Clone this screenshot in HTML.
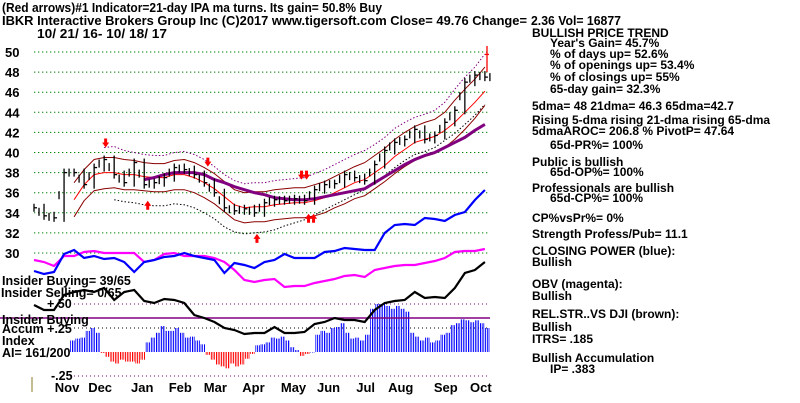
<!DOCTYPE html>
<html><head><meta charset="utf-8"><style>
html,body{margin:0;padding:0;background:#fff}
svg{display:block}
text{font-family:"Liberation Sans",sans-serif;font-weight:bold;fill:#000}
.t{font-size:12.5px}
.r{font-size:12px}
</style></head><body>
<svg id="chart" width="800" height="403" viewBox="0 0 800 403" xmlns="http://www.w3.org/2000/svg">
<defs>
<pattern id="bluestripe" width="2.4" height="4" patternUnits="userSpaceOnUse"><rect x="0" y="0" width="1.2" height="4" fill="#0000ff"/></pattern>
<pattern id="redstripe" width="2.4" height="4" patternUnits="userSpaceOnUse"><rect x="0" y="0" width="1.2" height="4" fill="#ff0000"/></pattern>
</defs>
<g>
<text class="t" x="2" y="12" textLength="380" lengthAdjust="spacingAndGlyphs">(Red arrows)#1 Indicator=21-day IPA ma turns. Its gain= 50.8% Buy</text>
<text class="t" x="2" y="25" textLength="525" lengthAdjust="spacingAndGlyphs">IBKR   Interactive Brokers Group Inc   (C)2017 www.tigersoft.com      Close=   49.76   Change=</text>
<text class="t" x="531" y="25" textLength="90" lengthAdjust="spacingAndGlyphs">2.36 Vol= 16877</text>
<text class="t" x="37" y="38" textLength="130" lengthAdjust="spacingAndGlyphs">10/ 21/ 16- 10/ 18/ 17</text>
</g>
<g id="grid"></g>
<g id="yticks"></g>
<g id="series"></g>
<g>
<text class="t" x="2" y="285">Insider Buying= 39/65</text>
<text class="t" x="1" y="297">Insider Selling= 0/65</text>
<text class="t" x="47" y="308">+.50</text>
<text class="t" x="2" y="324">Insider Buying</text>
<text class="t" x="2" y="333">Accum  +.25</text>
<text class="t" x="2" y="345">Index</text>
<text class="t" x="2" y="357">AI= 161/200</text>
<text class="t" x="51" y="380">-.25</text>
<line x1="32" y1="377" x2="32" y2="392" stroke="#8b7a2a" stroke-width="1"/>
</g>
<g id="xlabels"></g>
<g>
<text class="r" x="532" y="37">BULLISH PRICE TREND</text>
<text class="r" x="550" y="47">Year's Gain= 45.7%</text>
<text class="r" x="550" y="58">% of days up= 52.6%</text>
<text class="r" x="550" y="69">% of openings up= 53.4%</text>
<text class="r" x="550" y="81">% of closings up= 55%</text>
<text class="r" x="550" y="93">65-day gain= 32.3%</text>
<text class="r" x="532" y="110">5dma= 48 21dma= 46.3 65dma=42.7</text>
<text class="r" x="532" y="124">Rising 5-dma rising 21-dma rising 65-dma</text>
<text class="r" x="532" y="135">5dmaAROC= 206.8 %  PivotP= 47.64</text>
<text class="r" x="550" y="149">65d-PR%= 100%</text>
<text class="r" x="532" y="166">Public is bullish</text>
<text class="r" x="550" y="176">65d-OP%= 100%</text>
<text class="r" x="532" y="192">Professionals are bullish</text>
<text class="r" x="550" y="202">65d-CP%= 100%</text>
<text class="r" x="532" y="222">CP%vsPr%=  0%</text>
<text class="r" x="532" y="238">Strength Profess/Pub= 11.1</text>
<text class="r" x="532" y="255">CLOSING POWER (blue):</text>
<text class="r" x="532" y="266">Bullish</text>
<text class="r" x="532" y="288">OBV (magenta):</text>
<text class="r" x="532" y="300">Bullish</text>
<text class="r" x="532" y="318">REL.STR..VS DJI (brown):</text>
<text class="r" x="532" y="331">Bullish</text>
<text class="r" x="532" y="343">ITRS= .185</text>
<text class="r" x="532" y="362">Bullish Accumulation</text>
<text class="r" x="550" y="373">IP= .383</text>
</g>
</svg>
<script>
// ---- data ----
const priceTicks = [30,32,34,36,38,40,42,44,46,48,50];
const months = ["Nov","Dec","Jan","Feb","Mar","Apr","May","Jun","Jul","Aug","Sep","Oct"];
const monthIdx = [3.3,6.6,10.8,14.6,18.1,21.9,25.9,29.4,33.1,36.6,41.1,44.6];
const closes = [34.5,33.7,33.5,38,38,36.8,38.5,39.3,37.8,37,39,36.8,37,37.5,38.5,38.3,37.8,37,36,34.5,34.2,34.4,34,35,35.3,35.2,35.4,35.2,36.3,36.8,36.9,37.8,37.5,37.2,38.8,40.2,41,41.3,42.3,41.3,41.7,43,44.2,47,47.7,47.5];
const ma21 = [null,null,null,null,35.3,36.8,37.8,38,38,37.8,37.8,37.6,37.5,37.5,37.8,37.8,37.5,37,36.4,35.6,34.8,34.5,34.6,34.6,34.8,34.9,35,35,35.2,35.5,36,36.5,37,37.3,38,38.7,39.6,40.3,41,41.3,41.6,42.2,43,44,45,46.1];
const upperBand = [null,null,null,null,37,38.3,39.3,39.5,39.5,39.3,39.2,39,38.9,38.9,39.2,39.3,39,38.5,37.9,37.1,36.3,36,36.1,36.1,36.3,36.4,36.5,36.5,36.8,37.1,37.6,38.1,38.6,39,39.7,40.4,41.3,42,42.6,43,43.3,44,45.2,46.3,47.3,48.5];
const lowerBand = [null,null,null,null,33.6,35.2,36.2,36.4,36.5,36.3,36.3,36.2,36.1,36.1,36.3,36.3,36,35.5,34.9,34.1,33.3,33,33.1,33.1,33.3,33.4,33.5,33.5,33.7,34,34.5,34.9,35.4,35.7,36.4,37.1,37.9,38.6,39.2,39.6,39.9,40.5,41.3,42.3,43.4,44.7];
const outerUpper = [null,null,null,null,null,null,null,40.5,40.6,40.2,40,39.8,39.7,39.7,40,40.1,39.8,39.3,38.6,37.8,37.2,36.9,37,37,37.2,37.3,37.4,37.5,37.9,38.3,38.8,39.3,39.8,40.2,40.8,41.5,42.4,43,43.5,43.8,44.2,45,46.3,47.5,48.5,49.8];
const outerLower = [null,null,null,null,null,null,null,null,35.3,35.1,35,34.8,34.7,34.7,34.9,34.8,34.5,34,33.4,32.6,32.1,31.9,32,32.1,32.3,32.7,33,33.3,33.8,34.3,34.8,35.3,35.8,36.3,37,37.7,38.5,39.2,39.8,40.1,40.5,41.2,41.9,42.8,43.7,44.8];
const ma65 = [null,null,null,null,null,null,null,null,null,null,null,37.3,37.5,37.8,38,38,38,37.8,37.3,37,36.6,36.3,36,35.8,35.5,35.4,35.3,35.3,35.4,35.6,35.8,36,36.2,36.4,37,37.6,38.2,38.8,39.3,39.7,40,40.5,41,41.5,42.2,42.8];
const closingPower = [29,26,28,46,50,42,44,41,42,38,28,38,40,43,44,47,44,42,40,27,37,35,32,38,40,46,42,42,42,48,49,52,51,50,50,67,75,76,75,82,81,79,85,88,100,110];
const obv = [40,38,34,44,44,48,49,47,47,47,47,38,40,46,47,44,44,44,42,38,30,20,18,20,21,13,14,14,17,19,21,24,25,23,30,32,34,35,35,37,39,42,48,49,49,51];
const relStr = [95,90,90,105,108,110,108,112,100,108,110,99,97,101,100,97,85,82,78,72,70,66,67,67,73,67,67,68,76,78,82,80,80,78,90,97,99,100,108,102,103,102,112,127,130,138];
const accum = [.12,.14,.15,.22,.25,.2,-.01,-.05,-.1,-.12,-.08,-.1,-.1,-.12,-.08,.1,.15,.2,.27,.22,.22,.25,.2,.15,.16,.12,.08,-.03,-.08,-.13,-.15,-.17,-.12,-.15,-.13,-.07,-.02,.07,.08,.1,.15,.14,.16,.12,.05,.02,-.04,-.02,0,.18,.22,.2,.25,.26,.3,.2,.14,.15,.12,.18,.45,.5,.5,.48,.45,.48,.45,.42,.2,.16,.12,.15,.1,.12,.18,.2,.28,.3,.34,.33,.31,.33,.3,.25];
const lastClose = 49.76;
const signals = [{i:7.1,p:40.6,dir:"down"},{i:17.3,p:38.7,dir:"down"},{i:11.3,p:35.1,dir:"up"},{i:22.2,p:31.8,dir:"up"},{i:26.9,p:37.4,dir:"down2"},{i:27.6,p:33.8,dir:"up2"}];

// ---- scales ----
const X0=34, STEP=10.02;
const xi = i => X0 + i*STEP;
const yp = p => 52 + (50-p)*10.05;
const ycp = v => 300 - v;   // closing power panel
const yobv = v => 300 - v;  // OBV
const yrs = v => 400 - v;   // relative strength
const ACC0=352, ACCK=96;
const ya = v => ACC0 - v*ACCK;
const xa = i => 70 + i*5;

const NS="http://www.w3.org/2000/svg";
function mk(tag, parent, attrs){const e=document.createElementNS(NS,tag);for(const k in attrs)e.setAttribute(k,attrs[k]);parent.appendChild(e);return e;}
const grid=document.getElementById('grid'), yt=document.getElementById('yticks'), ser=document.getElementById('series'), xl=document.getElementById('xlabels');

priceTicks.forEach(p=>{
  const l=mk('line',grid,{x1:34,x2:490,y1:yp(p),y2:yp(p),stroke:'#008000','stroke-dasharray':'1.3 2.7','stroke-width':1});
  
  
  const t=mk('text',yt,{x:5,y:yp(p)+5,'font-size':'13px'});
  t.textContent=p;
  
  
});
months.forEach((m,k)=>{
  const t=mk('text',xl,{x:xi(monthIdx[k]),y:392,'font-size':'13px','text-anchor':'middle'});
  t.textContent=m;
  
  
});

[[.5,'#800080','1 3'],[.25,'#000','1 3'],[-.25,'#800080','1 3']].forEach(([v,c,d])=>{
  const l=mk('line',ser,{x1:70,x2:490,y1:ya(v),y2:ya(v),stroke:c,'stroke-dasharray':d});
  
  
});

accum.forEach((v,i)=>{
  const y=Math.min(ya(v),ACC0), h=Math.abs(ya(v)-ACC0);
  const r=mk('rect',ser,{x:xa(i),y:y,width:5,height:Math.max(h,0.5),fill:v>=0?'url(#bluestripe)':'url(#redstripe)'});
  
  
});
const insiderLine=mk('line',ser,{x1:0,x2:490,y1:318,y2:318,stroke:'#800080','stroke-width':1.5});



function path(arr, xf, yf, attrs, name){
  let d='', pen=false;
  arr.forEach((v,i)=>{ if(v==null){pen=false;return;} d+=(pen?'L':'M')+xf(i).toFixed(1)+' '+yf(v).toFixed(1)+' '; pen=true; });
  const p=mk('path',ser,Object.assign({d:d,fill:'none'},attrs));
  
  
  return p;
}
path(outerUpper,xi,yp,{stroke:'#800080','stroke-dasharray':'1.5 2'},'upper-outer-band');
path(outerLower,xi,yp,{stroke:'#000','stroke-dasharray':'1.5 2'},'lower-outer-band');
path(upperBand,xi,yp,{stroke:'#8b0000'},'upper-band');
path(lowerBand,xi,yp,{stroke:'#8b0000'},'lower-band');
path(ma21,xi,yp,{stroke:'#ff0000'},'ma21-line');
path(ma65,xi,yp,{stroke:'#800080','stroke-width':3},'ma65-line');
path(obv,xi,yobv,{stroke:'#ff00ff','stroke-width':2.2},'obv-line');
path(closingPower,xi,ycp,{stroke:'#0000ff','stroke-width':2.2},'closing-power-line');
path(relStr,xi,yrs,{stroke:'#000','stroke-width':2.2},'rel-strength-line');

closes.forEach((c,i)=>{
  const x=xi(i), prev=i>0?closes[i-1]:c;
  const hi=Math.max(c,prev)+0.4, lo=Math.min(c,prev)-0.4;
  const l=mk('line',ser,{x1:x,x2:x,y1:yp(hi),y2:yp(lo),stroke:'#000','stroke-width':1.3});
  
  
  const t=mk('line',ser,{x1:x,x2:x+3,y1:yp(c),y2:yp(c),stroke:'#000','stroke-width':1.3});
  
  
  const nx=i<closes.length-1?closes[i+1]:c;
  const m=mk('line',ser,{x1:x+5,x2:x+5,y1:yp((c+nx)/2+0.4),y2:yp((c+nx)/2-0.4),stroke:'#000','stroke-width':1.3});
  
  
});
const lb=mk('line',ser,{x1:487,x2:487,y1:yp(50.6),y2:yp(48),stroke:'#ff0000','stroke-width':1.3});


const lt=mk('line',ser,{x1:485,x2:489,y1:yp(lastClose),y2:yp(lastClose),stroke:'#ff0000','stroke-width':1.3});



function arrow(x,y,up){
  const g=mk('path',ser,{d: up? `M${x-1} ${y+8}h3v-4h2l-3.5-5l-3.5 5h2z` : `M${x-1} ${y-8}h3v4h2l-3.5 5l-3.5-5h2z`, fill:'#ff0000'});
  
  
}
signals.forEach(s=>{
  const x=xi(s.i), y=yp(s.p);
  if(s.dir==='down') arrow(x,y,false);
  else if(s.dir==='up') arrow(x,y,true);
  else if(s.dir==='down2'){arrow(x-2.5,y,false);arrow(x+2.5,y,false);}
  else {arrow(x-2.5,y,true);arrow(x+2.5,y,true);}
});
</script>
</body></html>
